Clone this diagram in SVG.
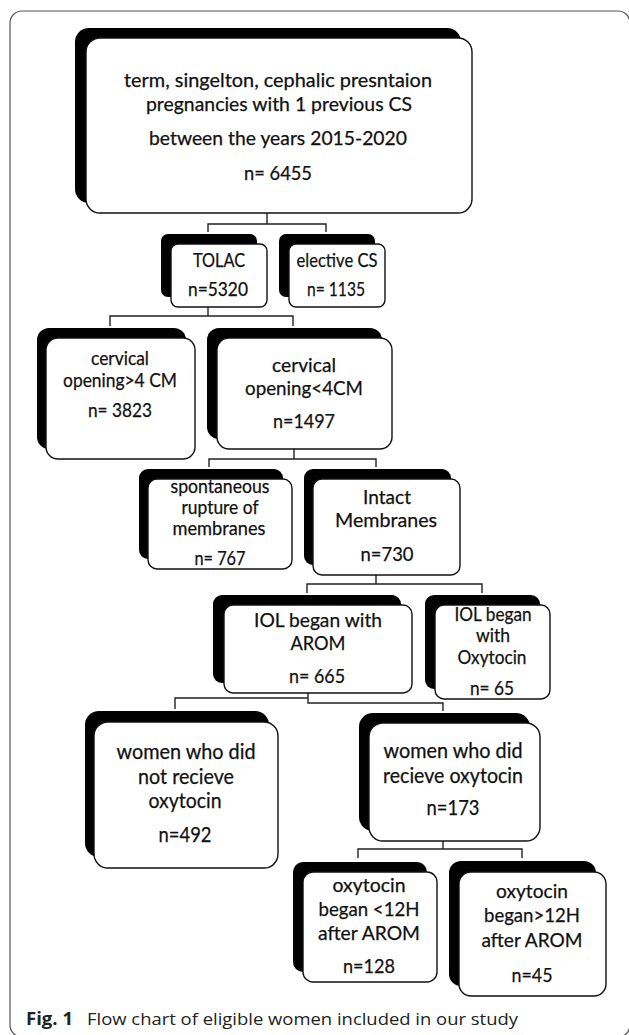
<svg xmlns="http://www.w3.org/2000/svg" width="629" height="1035" viewBox="0 0 629 1035">
<style>
.frame{fill:none;stroke:#555;stroke-width:1.2}
.sh{fill:#000;stroke:none}
.bx{fill:#fff;stroke:#111;stroke-width:1.4}
.t{font-family:Lato,"Open Sans","Liberation Sans",sans-serif;font-size:18.5px;fill:#111;stroke:#111;stroke-width:0.25;text-anchor:middle}
.c{fill:none;stroke:#222;stroke-width:1.4}
.cap{font-family:"Open Sans","Noto Sans","Liberation Sans",sans-serif;font-size:17px;fill:#222}
</style>
<rect width="629" height="1035" fill="#fff"/>
<rect class="frame" x="10" y="11" width="620" height="1026" rx="12"/>

<g id="connectors">
<path class="c" d="M267,213V224M208,232V224H326V232"/>
<path class="c" d="M208,307V316M110,326V316H293V326"/>
<path class="c" d="M294,449V459M209,467V459H376V467"/>
<path class="c" d="M376,575V584M307,593V584H482V593"/>
<path class="c" d="M308,693V698H175V709M308,698V703H443V711"/>
<path class="c" d="M443,841V849M358,858V849H522V858"/>
</g>

<g id="n-top">
<rect class="sh" x="75" y="28" width="386" height="175" rx="14"/>
<rect class="bx" x="86" y="38" width="386" height="175" rx="14"/>
<text class="t" x="278" y="87" textLength="308" lengthAdjust="spacingAndGlyphs">term, singelton, cephalic presntaion</text>
<text class="t" x="279" y="111" textLength="266" lengthAdjust="spacingAndGlyphs">pregnancies with 1 previous CS</text>
<text class="t" x="278" y="145" textLength="258" lengthAdjust="spacingAndGlyphs">between the years 2015-2020</text>
<text class="t" x="278" y="180" textLength="68" lengthAdjust="spacingAndGlyphs">n= 6455</text>
</g>

<g id="n-tolac">
<rect class="sh" x="161" y="234" width="96" height="63" rx="7"/>
<rect class="bx" x="171" y="244" width="96" height="63" rx="7"/>
<text class="t" x="219" y="267" textLength="52" lengthAdjust="spacingAndGlyphs">TOLAC</text>
<text class="t" x="218" y="296" textLength="60" lengthAdjust="spacingAndGlyphs">n=5320</text>
</g>

<g id="n-elective">
<rect class="sh" x="279" y="234" width="96" height="63" rx="7"/>
<rect class="bx" x="289" y="244" width="96" height="63" rx="7"/>
<text class="t" x="337" y="267" textLength="81" lengthAdjust="spacingAndGlyphs">elective CS</text>
<text class="t" x="336" y="296" textLength="58" lengthAdjust="spacingAndGlyphs">n= 1135</text>
</g>

<g id="n-cerv-gt4">
<rect class="sh" x="37" y="328" width="149" height="121" rx="12"/>
<rect class="bx" x="46" y="338" width="149" height="121" rx="12"/>
<text class="t" x="120" y="365" textLength="58" lengthAdjust="spacingAndGlyphs">cervical</text>
<text class="t" x="120" y="387" textLength="114" lengthAdjust="spacingAndGlyphs">opening&gt;4 CM</text>
<text class="t" x="120" y="417" textLength="64" lengthAdjust="spacingAndGlyphs">n= 3823</text>
</g>

<g id="n-cerv-lt4">
<rect class="sh" x="207" y="328" width="175" height="111" rx="12"/>
<rect class="bx" x="217" y="338" width="175" height="111" rx="12"/>
<text class="t" x="304" y="372" style="font-size:20px" textLength="64" lengthAdjust="spacingAndGlyphs">cervical</text>
<text class="t" x="304" y="395" style="font-size:20px" textLength="118" lengthAdjust="spacingAndGlyphs">opening&lt;4CM</text>
<text class="t" x="304" y="428" style="font-size:20px" textLength="62" lengthAdjust="spacingAndGlyphs">n=1497</text>
</g>

<g id="n-spont">
<rect class="sh" x="139" y="469" width="144" height="90" rx="9"/>
<rect class="bx" x="148" y="479" width="144" height="90" rx="9"/>
<text class="t" x="220" y="493" textLength="99" lengthAdjust="spacingAndGlyphs">spontaneous</text>
<text class="t" x="220" y="514" textLength="77" lengthAdjust="spacingAndGlyphs">rupture of</text>
<text class="t" x="219" y="535" textLength="93" lengthAdjust="spacingAndGlyphs">membranes</text>
<text class="t" x="220" y="565" textLength="51" lengthAdjust="spacingAndGlyphs">n= 767</text>
</g>

<g id="n-intact">
<rect class="sh" x="304" y="469" width="147" height="96" rx="9"/>
<rect class="bx" x="313" y="479" width="147" height="96" rx="9"/>
<text class="t" x="387" y="504" style="font-size:19.5px" textLength="48" lengthAdjust="spacingAndGlyphs">Intact</text>
<text class="t" x="386" y="527" style="font-size:19.5px" textLength="102" lengthAdjust="spacingAndGlyphs">Membranes</text>
<text class="t" x="387" y="561" style="font-size:19.5px" textLength="53" lengthAdjust="spacingAndGlyphs">n=730</text>
</g>

<g id="n-iol-arom">
<rect class="sh" x="213" y="595" width="188" height="88" rx="9"/>
<rect class="bx" x="224" y="605" width="188" height="88" rx="9"/>
<text class="t" x="318" y="627" style="font-size:19.5px" textLength="128" lengthAdjust="spacingAndGlyphs">IOL began with</text>
<text class="t" x="318" y="650" style="font-size:19.5px" textLength="55" lengthAdjust="spacingAndGlyphs">AROM</text>
<text class="t" x="317" y="683" style="font-size:19.5px" textLength="56" lengthAdjust="spacingAndGlyphs">n= 665</text>
</g>

<g id="n-iol-oxy">
<rect class="sh" x="425" y="595" width="115" height="94" rx="9"/>
<rect class="bx" x="435" y="605" width="115" height="94" rx="9"/>
<text class="t" x="493" y="621" textLength="77" lengthAdjust="spacingAndGlyphs">IOL began</text>
<text class="t" x="493" y="642" textLength="34" lengthAdjust="spacingAndGlyphs">with</text>
<text class="t" x="492" y="664" textLength="69" lengthAdjust="spacingAndGlyphs">Oxytocin</text>
<text class="t" x="492" y="695" textLength="44" lengthAdjust="spacingAndGlyphs">n= 65</text>
</g>

<g id="n-women-not">
<rect class="sh" x="85" y="711" width="184" height="146" rx="14"/>
<rect class="bx" x="94" y="722" width="184" height="146" rx="14"/>
<text class="t" x="186" y="759" style="font-size:20.5px" textLength="139" lengthAdjust="spacingAndGlyphs">women who did</text>
<text class="t" x="186" y="784" style="font-size:20.5px" textLength="96" lengthAdjust="spacingAndGlyphs">not recieve</text>
<text class="t" x="185" y="808" style="font-size:20.5px" textLength="73" lengthAdjust="spacingAndGlyphs">oxytocin</text>
<text class="t" x="185" y="842" style="font-size:20.5px" textLength="53" lengthAdjust="spacingAndGlyphs">n=492</text>
</g>

<g id="n-women-did">
<rect class="sh" x="359" y="713" width="171" height="118" rx="14"/>
<rect class="bx" x="369" y="723" width="171" height="118" rx="14"/>
<text class="t" x="453" y="758" style="font-size:20.5px" textLength="139" lengthAdjust="spacingAndGlyphs">women who did</text>
<text class="t" x="453" y="783" style="font-size:20.5px" textLength="140" lengthAdjust="spacingAndGlyphs">recieve oxytocin</text>
<text class="t" x="453" y="815" style="font-size:20.5px" textLength="53" lengthAdjust="spacingAndGlyphs">n=173</text>
</g>

<g id="n-oxy-lt12">
<rect class="sh" x="293" y="862" width="134" height="110" rx="10"/>
<rect class="bx" x="303" y="872" width="134" height="110" rx="10"/>
<text class="t" x="369" y="892" style="font-size:20px" textLength="73" lengthAdjust="spacingAndGlyphs">oxytocin</text>
<text class="t" x="369" y="916" style="font-size:20px" textLength="101" lengthAdjust="spacingAndGlyphs">began &lt;12H</text>
<text class="t" x="369" y="940" style="font-size:20px" textLength="102" lengthAdjust="spacingAndGlyphs">after AROM</text>
<text class="t" x="369" y="973" style="font-size:20px" textLength="52" lengthAdjust="spacingAndGlyphs">n=128</text>
</g>

<g id="n-oxy-gt12">
<rect class="sh" x="449" y="861" width="147" height="125" rx="12"/>
<rect class="bx" x="459" y="872" width="147" height="124" rx="12"/>
<text class="t" x="532" y="898" style="font-size:20px" textLength="72" lengthAdjust="spacingAndGlyphs">oxytocin</text>
<text class="t" x="532" y="922" style="font-size:20px" textLength="96" lengthAdjust="spacingAndGlyphs">began&gt;12H</text>
<text class="t" x="532" y="947" style="font-size:20px" textLength="101" lengthAdjust="spacingAndGlyphs">after AROM</text>
<text class="t" x="532" y="982" style="font-size:20px" textLength="41" lengthAdjust="spacingAndGlyphs">n=45</text>
</g>

<g id="caption">
<text class="cap" x="26" y="1025"><tspan font-weight="bold" textLength="47" lengthAdjust="spacingAndGlyphs">Fig. 1</tspan></text>
<text class="cap" x="87" y="1025" textLength="431" lengthAdjust="spacingAndGlyphs">Flow chart of eligible women included in our study</text>
</g>
</svg>
